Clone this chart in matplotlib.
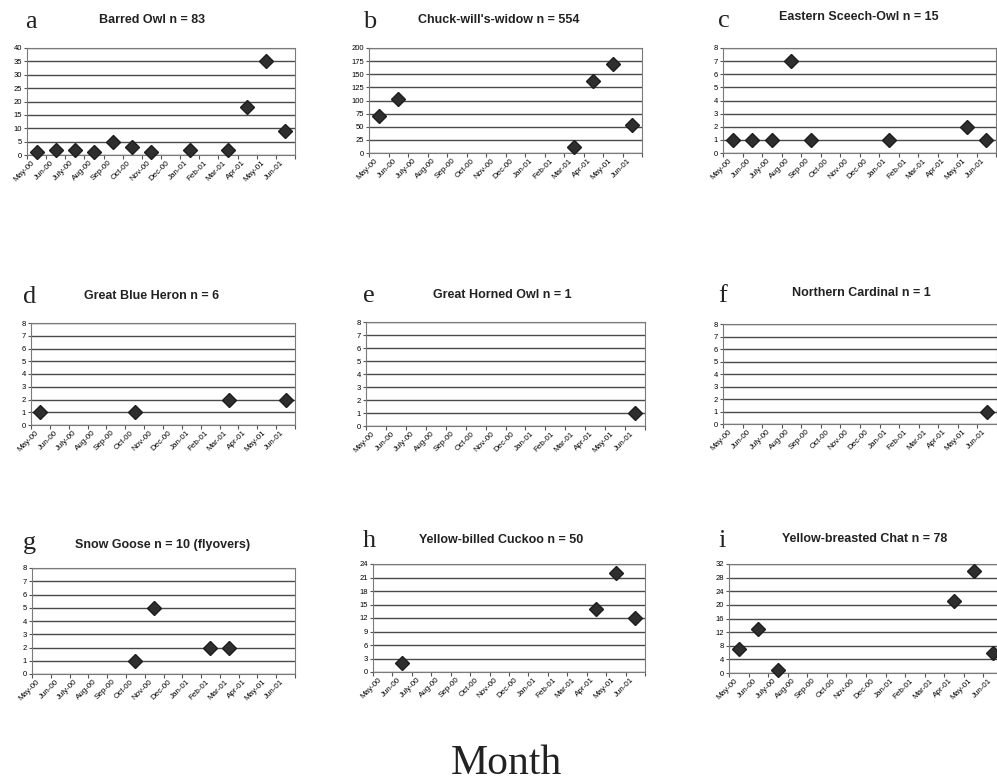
import numpy as np
import matplotlib
matplotlib.use("Agg")
import matplotlib.pyplot as plt

W, H = 997, 783

months = ["May-00", "Jun-00", "July-00", "Aug-00", "Sep-00", "Oct-00", "Nov-00",
          "Dec-00", "Jan-01", "Feb-01", "Mar-01", "Apr-01", "May-01", "Jun-01"]
nan = np.nan

barred_owl = [1, 2, 2, 1, 5, 3, 1, nan, 2, nan, 2, 18, 35, 9]
chuck_wills_widow = [71, 103, nan, nan, nan, nan, nan, nan, nan, nan, 11, 137, 169, 53]
eastern_screech_owl = [1, 1, 1, 7, 1, nan, nan, nan, 1, nan, nan, nan, 2, 1]
great_blue_heron = [1, nan, nan, nan, nan, 1, nan, nan, nan, nan, 2, nan, nan, 2]
great_horned_owl = [nan] * 13 + [1]
northern_cardinal = [nan] * 13 + [1]
snow_goose = [nan, nan, nan, nan, nan, 1, 5, nan, nan, 2, 2, nan, nan, nan]
yellow_billed_cuckoo = [nan, 2, nan, nan, nan, nan, nan, nan, nan, nan, nan, 14, 22, 12]
yellow_breasted_chat = [7, 13, 1, nan, nan, nan, nan, nan, nan, nan, nan, 21, 30, 6]

titles = ["Barred Owl n = 83", "Chuck-will's-widow n = 554", "Eastern Sceech-Owl n = 15",
          "Great Blue Heron n = 6", "Great Horned Owl n = 1", "Northern Cardinal n = 1",
          "Snow Goose n = 10 (flyovers)", "Yellow-billed Cuckoo n = 50", "Yellow-breasted Chat n = 78"]
letters = list("abcdefghi")
series = [barred_owl, chuck_wills_widow, eastern_screech_owl, great_blue_heron,
          great_horned_owl, northern_cardinal, snow_goose, yellow_billed_cuckoo,
          yellow_breasted_chat]
ymax = [40, 200, 8, 8, 8, 8, 8, 24, 32]
ystep = [5, 25, 1, 1, 1, 1, 1, 3, 4]

# axes boxes in pixels: left, right, top, bottom
boxes = [(27, 295, 48, 155), (369, 642, 48, 153), (723, 996, 48, 153),
         (31, 295, 323, 425), (366, 645, 322, 426), (723, 997, 324, 424),
         (32, 295, 568, 674), (373, 645, 564, 672), (729, 1003, 564, 673)]
# title centre x / baseline y, letter left x / baseline y
title_pos = [(152, 23), (499, 23), (859, 20), (152, 299), (502, 298), (861, 296),
             (163, 548), (501, 543), (865, 542)]
letter_pos = [(25, 28), (363, 28), (718, 27), (23, 303), (363, 302), (718, 302),
              (23, 549), (363, 547), (718, 547)]


def px(x, y):
    return x / W, 1 - y / H


fig = plt.figure(figsize=(W / 100, H / 100), dpi=100)

for k in range(9):
    l, r, t, b = boxes[k]
    x0, y0 = px(l, b)
    ax = fig.add_axes([x0, y0, (r - l) / W, (b - t) / H])
    xs = np.arange(len(months)) + 0.5
    ax.plot(xs, series[k], linestyle="none", marker="D", markersize=6.8,
            color="#2e2e2e", markeredgecolor="#1e1e1e", zorder=3, clip_on=False)
    ax.set_xlim(0, len(months))
    ax.set_ylim(0, ymax[k])
    ax.set_yticks(np.arange(0, ymax[k] + ystep[k], ystep[k]))
    ax.yaxis.grid(True, color="#4a4a4a", linewidth=1.0)
    ax.set_axisbelow(True)
    ax.set_xticks(np.arange(0, len(months) + 1))
    ax.set_xticklabels([])
    ax.set_xticks(xs, minor=True)
    ax.set_xticklabels(months, minor=True, rotation=45, ha="right",
                       fontsize=5.8, family="Liberation Sans")
    ax.tick_params(axis="x", which="minor", length=0, pad=3)
    ax.tick_params(axis="x", which="major", length=3, width=0.8, color="#555555")
    ax.tick_params(axis="y", length=2, width=0.8, color="#555555", pad=1.5,
                   labelsize=5.5)
    for lab in ax.get_yticklabels():
        lab.set_family("Liberation Sans")
    for s in ax.spines.values():
        s.set_color("#7a7a7a")
        s.set_linewidth(0.8)

    tx, ty = px(*title_pos[k])
    fig.text(tx, ty, titles[k], ha="center", va="baseline", fontsize=9,
             fontweight="bold", family="Liberation Sans", color="#222222")
    lx, ly = px(*letter_pos[k])
    fig.text(lx, ly, letters[k], ha="left", va="baseline", fontsize=19,
             family="Liberation Serif", color="#222222")

mx, my = px(506, 774)
fig.text(mx, my, "Month", ha="center", va="baseline", fontsize=30,
         family="Liberation Serif", color="#222222")

fig.savefig("out.png", dpi=100)
